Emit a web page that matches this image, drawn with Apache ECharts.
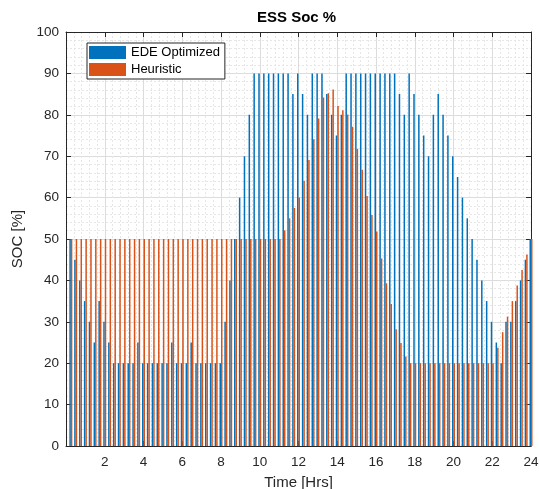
<!DOCTYPE html>
<html>
<head>
<meta charset="utf-8">
<script src="https://cdn.jsdelivr.net/npm/echarts@6/dist/echarts.min.js"></script>
<style>
  html, body { margin: 0; background: #fff; }
  #chart { width: 539px; height: 489px; }
</style>
</head>
<body>
<div id="chart"></div>
<script>
  // time axis: one group every 15 minutes, 0.25 .. 24 h
  const hours = Array.from({ length: 96 }, (_, i) => (i + 1) * 0.25)

  // SOC [%] of the battery
  const edeOptimized = [
    50, 45, 40, 35, 30, 25, 35, 30, 25, 20,
    20, 20, 20, 20, 25, 20, 20, 20, 20, 20,
    20, 25, 20, 20, 20, 25, 20, 20, 20, 20,
    20, 20, 30, 40, 50, 60, 70, 80, 90, 90,
    90, 90, 90, 90, 90, 90, 85, 90, 85, 80,
    90, 90, 90, 85, 80, 75, 80, 90, 90, 90,
    90, 90, 90, 90, 90, 90, 90, 90, 85, 80,
    90, 85, 80, 75, 70, 80, 85, 80, 75, 70,
    65, 60, 55, 50, 45, 40, 35, 30, 25, 20,
    30, 30, 35, 40, 45, 50
  ]
  const heuristic = [
    50, 50, 50, 50, 50, 50, 50, 50, 50, 50,
    50, 50, 50, 50, 50, 50, 50, 50, 50, 50,
    50, 50, 50, 50, 50, 50, 50, 50, 50, 50,
    50, 50, 50, 50, 50, 50, 50, 50, 50, 50,
    50, 50, 50, 50, 52.1, 55, 57.5, 60, 64.1, 69.1,
    74.1, 79.1, 84.2, 85.2, 86.1, 82.1, 81.1, 80.1, 77.1, 71.8,
    66.7, 60.4, 55.8, 51.8, 45.3, 39.3, 34.3, 28.2, 24.9, 21.6,
    20, 20, 20, 20, 20, 20, 20, 20, 20, 20,
    20, 20, 20, 20, 20, 20, 20, 20, 23.75, 27.5,
    31.25, 35, 38.75, 42.5, 46.25, 50
  ]

  const axisColor = '#262626'
  const font = 'Liberation Sans, Arial, Helvetica, sans-serif'

  // common axis look (matlab style box, inner ticks, dotted minor grid)
  const axisBase = {
    type: 'value',
    axisLine: { show: true, onZero: false, lineStyle: { color: axisColor, width: 1 } },
    axisTick: { show: true, inside: true, length: 5, lineStyle: { color: axisColor } },
    minorTick: { show: false, splitNumber: 5 }
  }
  const majorGrid = { show: true, lineStyle: { color: '#dcdcdc' } }
  const minorGrid = { show: true, lineStyle: { color: '#e6e6e6', type: [2, 2] } }

  const chart = echarts.init(document.getElementById('chart'))
  chart.setOption({
    animation: false,
    title: {
      text: 'ESS Soc %',
      left: 257,
      top: 10,
      padding: 0,
      textStyle: { fontFamily: font, fontSize: 15, fontWeight: 'bold', color: '#000' }
    },
    legend: {
      data: ['EDE Optimized', 'Heuristic'],
      orient: 'vertical',
      left: 87,
      top: 43,
      icon: 'rect',
      itemWidth: 37,
      itemHeight: 13,
      itemGap: 4,
      padding: [3, 5, 3, 2],
      borderColor: axisColor,
      borderWidth: 1,
      backgroundColor: '#fff',
      textStyle: { fontFamily: font, fontSize: 13, color: '#000', lineHeight: 13 }
    },
    // fixed plot box, labels may run to the page edge as in the original
    grid: { left: 66, right: 8, top: 32, bottom: 43, outerBoundsMode: 'none' },
    xAxis: [
      {
        ...axisBase,
        min: 0,
        max: 24,
        interval: 2,
        position: 'bottom',
        name: 'Time [Hrs]',
        nameLocation: 'middle',
        nameGap: 29,
        nameTextStyle: { fontFamily: font, fontSize: 15, color: axisColor },
        axisLabel: {
          formatter: (v) => (v === 0 ? '' : v),
          fontFamily: font,
          fontSize: 13.5,
          color: axisColor,
          margin: 9
        },
        splitLine: majorGrid,
        minorSplitLine: minorGrid
      },
      {
        ...axisBase,
        min: 0,
        max: 24,
        interval: 2,
        position: 'top',
        axisLabel: { show: false },
        splitLine: { show: false }
      }
    ],
    yAxis: [
      {
        ...axisBase,
        min: 0,
        max: 100,
        interval: 10,
        position: 'left',
        name: 'SOC [%]',
        nameLocation: 'middle',
        nameGap: 33,
        nameTextStyle: { fontFamily: font, fontSize: 15, color: axisColor },
        axisLabel: { fontFamily: font, fontSize: 13.5, color: axisColor, margin: 7 },
        splitLine: majorGrid,
        minorSplitLine: minorGrid
      },
      {
        ...axisBase,
        min: 0,
        max: 100,
        interval: 10,
        position: 'right',
        axisLabel: { show: false },
        splitLine: { show: false }
      }
    ],
    series: [
      {
        name: 'EDE Optimized',
        type: 'bar',
        xAxisIndex: 0,
        yAxisIndex: 0,
        barWidth: 1.5,
        barGap: '0%',
        itemStyle: { color: '#0072BD' },
        data: hours.map((h, i) => [h, edeOptimized[i]])
      },
      {
        name: 'Heuristic',
        type: 'bar',
        xAxisIndex: 0,
        yAxisIndex: 0,
        barWidth: 1.5,
        barGap: '0%',
        itemStyle: { color: '#D95319' },
        data: hours.map((h, i) => [h, heuristic[i]])
      }
    ]
  })
</script>
</body>
</html>
